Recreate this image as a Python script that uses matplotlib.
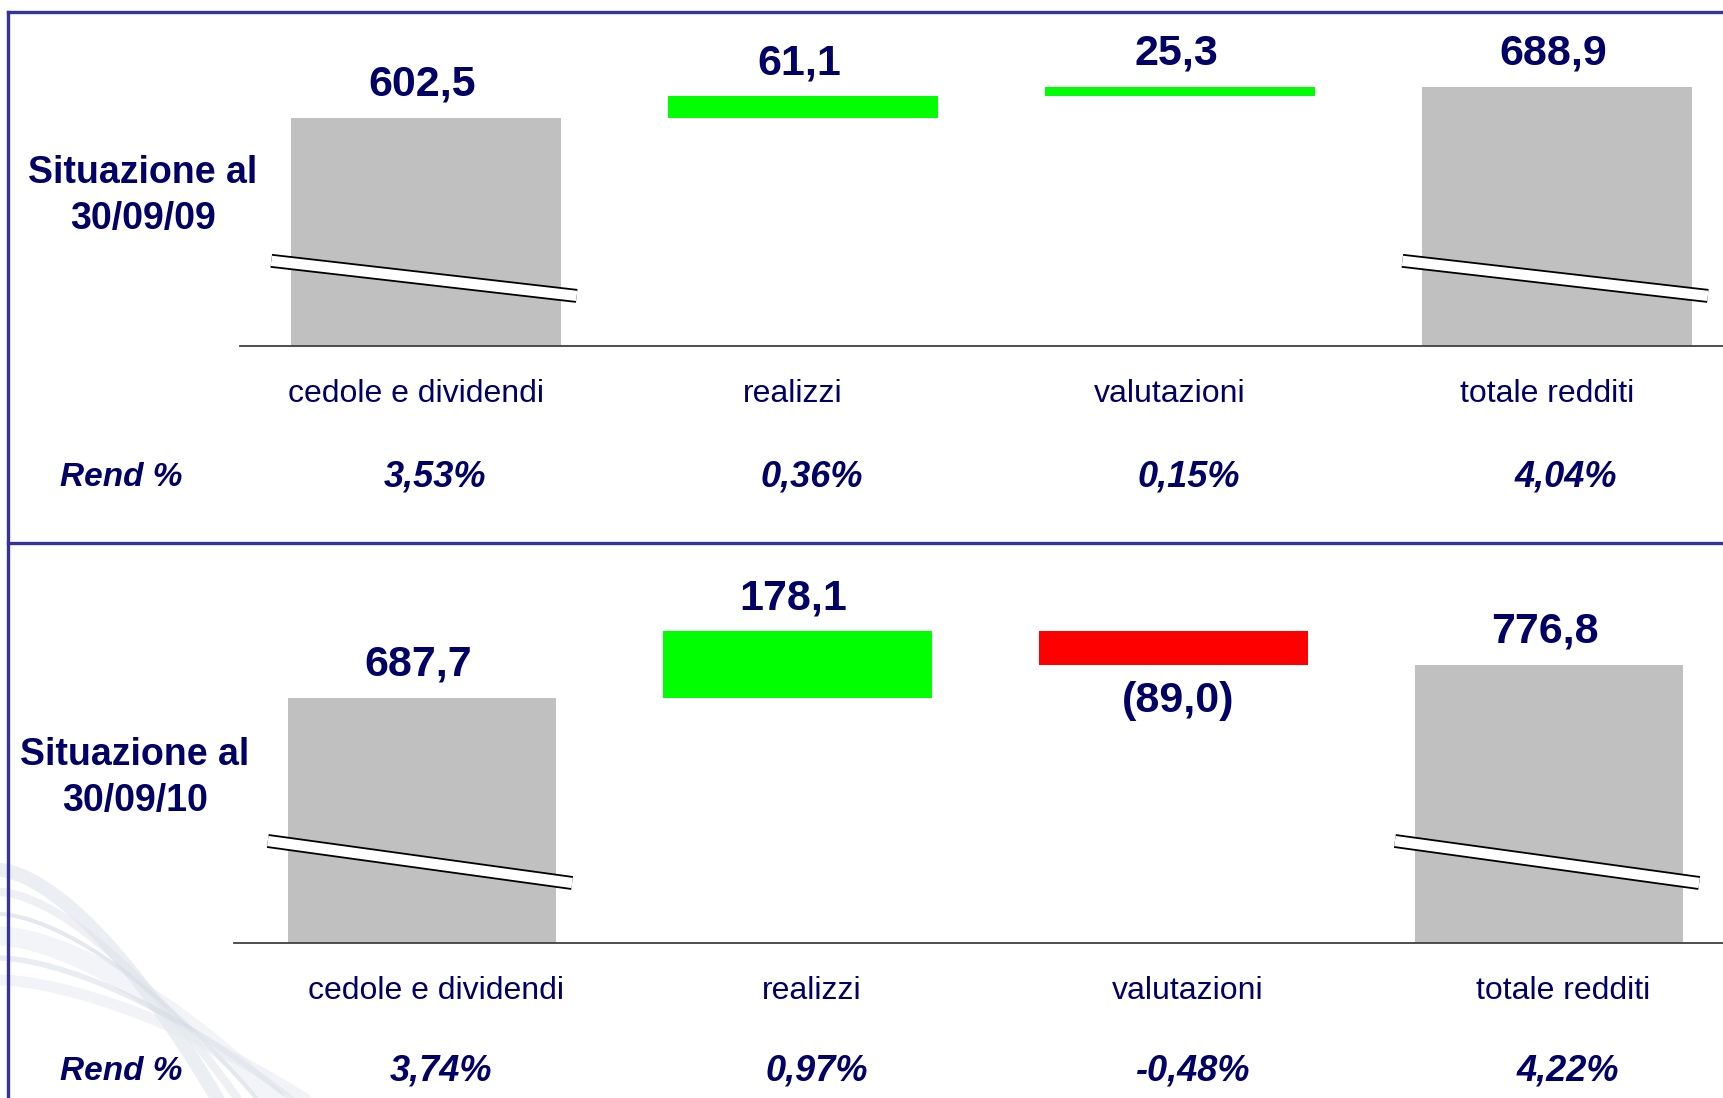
import matplotlib
matplotlib.use('Agg')
import matplotlib.pyplot as plt
import matplotlib.transforms as mtransforms
import numpy as np

# dati
categories = ['cedole e dividendi', 'realizzi', 'valutazioni', 'totale redditi']
values_09 = [602.5, 61.1, 25.3, 688.9]
values_10 = [687.7, 178.1, -89.0, 776.8]
rend_09 = ['3,53%', '0,36%', '0,15%', '4,04%']
rend_10 = ['3,74%', '0,97%', '-0,48%', '4,22%']
titles = ['Situazione al\n30/09/09', 'Situazione al\n30/09/10']

NAVY = '#000066'
FRAME = '#333399'
GREY = '#c0c0c0'
FONT = ['Liberation Sans Narrow', 'Liberation Sans', 'DejaVu Sans']
plt.rcParams['font.family'] = FONT

W, H = 1724, 1098
fig = plt.figure(figsize=(W / 100, H / 100), dpi=100)


def px_axes(left, top, right, bottom, **kw):
    return fig.add_axes([left / W, 1 - bottom / H, (right - left) / W, (bottom - top) / H], **kw)


def fmt(v):
    s = ('%.1f' % abs(v)).replace('.', ',')
    return '(%s)' % s if v < 0 else s


# sfondo: cornice e decorazione in basso a sinistra
bg = px_axes(0, 0, W, H, zorder=0)
bg.set_xlim(0, W)
bg.set_ylim(H, 0)
bg.axis('off')
t = np.linspace(0, 1, 100)
for k, (c, lw, a) in enumerate([('#d4dae4', 10, 0.45), ('#dfe3ea', 6, 0.5), ('#c6cedb', 3, 0.45),
                                ('#e4e8ef', 14, 0.45), ('#cfd6e0', 4, 0.45), ('#e6e9f0', 8, 0.5)]):
    x = t * (240 + k * 25)
    y = 870 + k * 22 + (H - 870 - k * 22 + 40) * t ** 1.6
    bg.plot(x, y, color=c, lw=lw, alpha=a, solid_capstyle='round')

ov = px_axes(0, 0, W, H, zorder=10)
ov.set_xlim(0, W)
ov.set_ylim(H, 0)
ov.axis('off')
ov.patch.set_alpha(0)
ov.plot([8, W], [12, 12], color=FRAME, lw=2.4)
ov.plot([8, W], [543, 543], color=FRAME, lw=2.4)
ov.plot([8, 8], [12, H], color=FRAME, lw=2.4)

panels = [
    dict(vals=values_09, rend=rend_09, title=titles[0], box=(240, 12, W, 346),
         xlim=(-0.493, 3.443), ylim=(-31, 897), title_xy=(143, 196), rend_y=477,
         cat_dx=-10, rend_dx=9),
    dict(vals=values_10, rend=rend_10, title=titles[1], box=(234, 543, W, 943),
         xlim=(-0.500, 3.466), ylim=(36, 1100), title_xy=(135, 778), rend_y=1071,
         cat_dx=14, rend_dx=19),
]

x = np.arange(len(categories))
for p in panels:
    ax = px_axes(*p['box'], zorder=2)
    ax.patch.set_alpha(0)
    vals = p['vals']
    lo = p['ylim'][0]
    running = vals[0]
    bottoms, heights, colors = [lo], [vals[0] - lo], [GREY]
    for d in vals[1:-1]:
        bottoms.append(running if d > 0 else running + d)
        heights.append(abs(d))
        colors.append('#00ff00' if d > 0 else '#ff0000')
        running += d
    bottoms.append(lo)
    heights.append(vals[-1] - lo)
    colors.append(GREY)
    ax.bar(x, heights, bottom=bottoms, width=0.715, color=colors, edgecolor='none')

    ax.set_xlim(*p['xlim'])
    ax.set_ylim(*p['ylim'])
    for s in ['top', 'right', 'left']:
        ax.spines[s].set_visible(False)
    ax.spines['bottom'].set_color('#404040')
    ax.spines['bottom'].set_linewidth(1.3)
    ax.set_xticks([])
    ax.set_yticks([])

    # etichette valori
    for i, v in enumerate(vals):
        if v < 0:
            ax.annotate(fmt(v), (x[i], bottoms[i]), xytext=(5, -36), textcoords='offset pixels',
                        ha='center', va='center', fontsize=31, fontweight='bold', color=NAVY)
        else:
            ax.annotate(fmt(v), (x[i], bottoms[i] + heights[i]), xytext=(-4, 33),
                        textcoords='offset pixels', ha='center', va='center',
                        fontsize=31, fontweight='bold', color=NAVY)

    # categorie e rendimenti
    base_y = p['box'][3]
    for i, c in enumerate(categories):
        ax.annotate(c, (x[i], 0), xycoords=('data', 'axes fraction'), xytext=(p['cat_dx'], -48),
                    textcoords='offset pixels', ha='center', va='center', fontsize=23, color=NAVY)
        ax.annotate(p['rend'][i], (x[i], 0), xycoords=('data', 'axes fraction'),
                    xytext=(p['rend_dx'], -(p['rend_y'] - base_y)), textcoords='offset pixels',
                    ha='center', va='center', fontsize=26, fontweight='bold',
                    fontstyle='italic', color=NAVY)

    # interruzione dell'asse
    tr = mtransforms.blended_transform_factory(ax.transData, ax.transAxes)
    for i in (0, len(vals) - 1):
        xs = [x[i] - 0.41, x[i] + 0.40]
        ys = [0.255, 0.15]
        ax.plot(xs, ys, transform=tr, color='black', lw=10.0, clip_on=False, zorder=5,
                solid_capstyle='butt')
        ax.plot(xs, ys, transform=tr, color='white', lw=7.4, clip_on=False, zorder=6,
                solid_capstyle='butt')

    ov.text(p['title_xy'][0], p['title_xy'][1], p['title'], ha='center', va='center',
            fontsize=27, fontweight='bold', color=NAVY, linespacing=1.35)
    ov.text(121, p['rend_y'], 'Rend %', ha='center', va='center', fontsize=24,
            fontweight='bold', fontstyle='italic', color=NAVY)

fig.savefig('out.png', dpi=100)
